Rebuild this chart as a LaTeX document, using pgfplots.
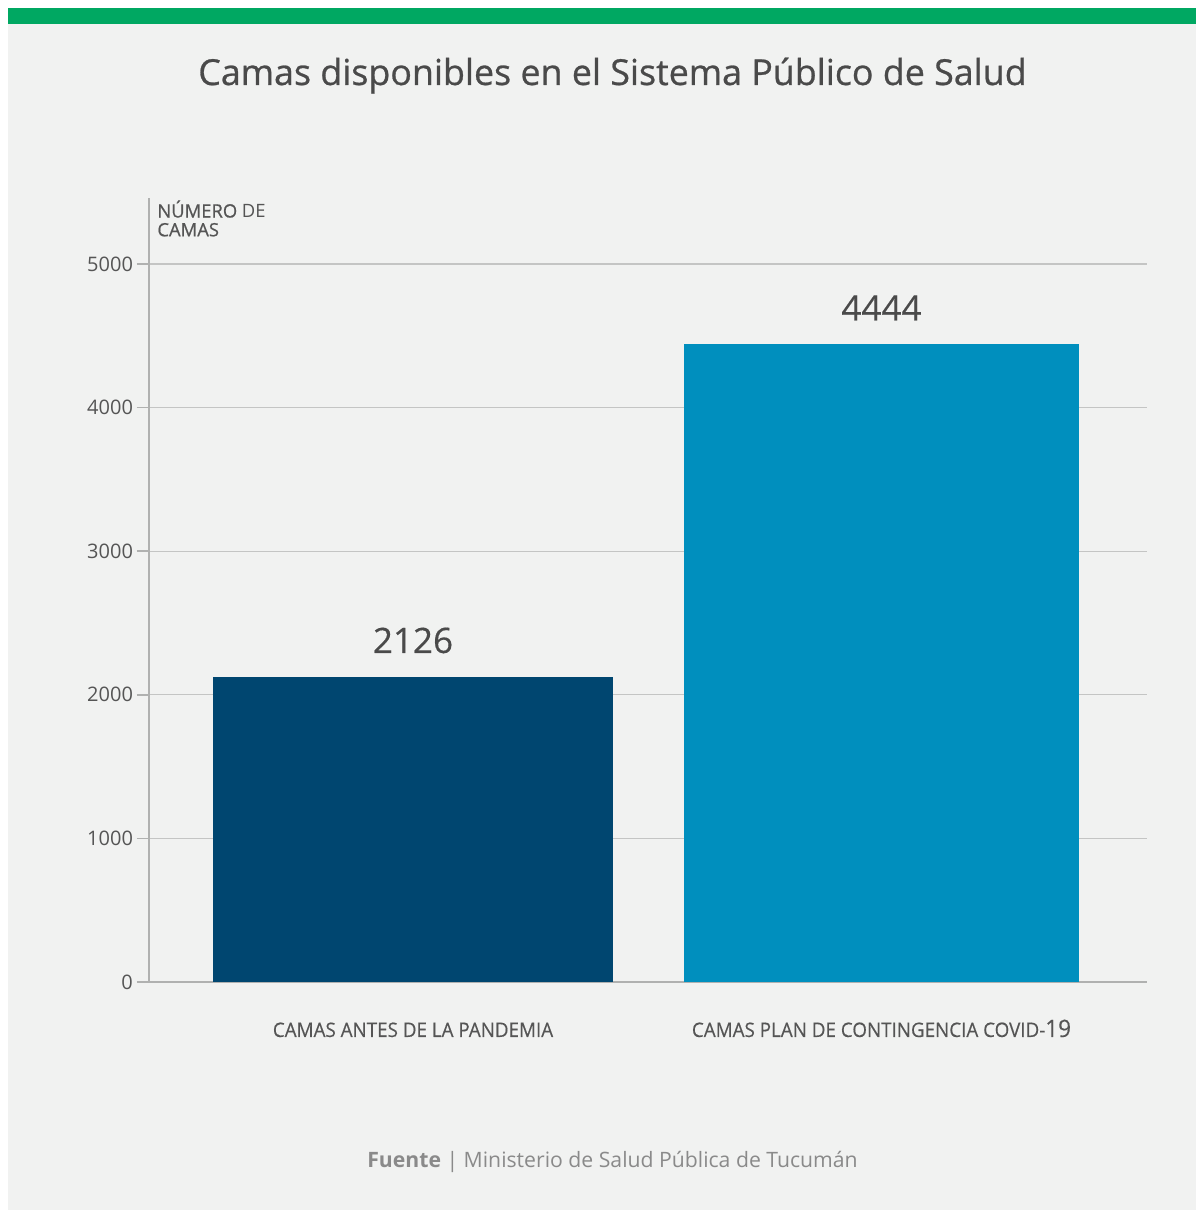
\documentclass[border=0pt]{standalone}
\usepackage{pgfplots}
\pgfplotsset{compat=1.18}
\usepackage{fontspec}
\setmainfont{Open Sans}
\newfontfamily\condfont[FakeStretch=0.94, FakeBold=0.3]{Open Sans}
\newfontfamily\semib[FakeBold=0.7]{Open Sans}
\newfontfamily\medf[FakeBold=0.4]{Open Sans}
\definecolor{bg}{HTML}{F1F2F1}
\definecolor{topgreen}{HTML}{00A862}
\definecolor{barA}{HTML}{004670}
\definecolor{barB}{HTML}{008FBE}
\definecolor{titlec}{HTML}{4A4A4A}
\definecolor{textc}{HTML}{555555}
\definecolor{footc}{HTML}{8A8A8A}
\definecolor{gridc}{HTML}{C4C5C4}
\definecolor{axisc}{HTML}{B0B1B0}
\begin{document}
\begin{tikzpicture}[x=0.5pt,y=0.5pt]
\useasboundingbox (0,0) rectangle (1196,1212);
\fill[white] (0,0) rectangle (1196,1212);
\fill[bg] (8,2) rectangle (1196,1188);
\fill[topgreen] (8,1188) rectangle (1196,1204);
\node[anchor=base, font=\semib\fontsize{17.9pt}{22pt}\selectfont, text=titlec, inner sep=0] at (612.5,1127) {Camas disponibles en el Sistema Público de Salud};
\node[anchor=base, font=\fontsize{10.6pt}{13pt}\selectfont, text=footc, inner sep=0] at (612.5,44) {\textbf{Fuente} | Ministerio de Salud Pública de Tucumán};
\node[anchor=north west, align=left, font=\fontsize{9.2pt}{9.4pt}\selectfont, text=textc, inner sep=0] at (157,1012) {{\semib NÚMERO} DE\\{\semib CAMAS}};
\begin{axis}[
  at={(149,160.2)}, anchor=origin,
  scale only axis, width=499pt, height=392pt,
  xmin=0, xmax=998, ymin=0, ymax=5460,
  axis x line=bottom, axis y line=left,
  axis line style={draw=axisc, line width=1pt, -},
  xtick=\empty,
  ytick={0,1000,2000,3000,4000,5000},
  ymajorgrids, grid style={draw=gridc, line width=0.6pt},
  tick style={draw=axisc, line width=0.8pt},
  major tick length=6pt, tick align=outside,
  yticklabel style={font=\fontsize{10pt}{12pt}\selectfont, text=textc, xshift=1.5pt},
  /pgf/number format/1000 sep={},
  /pgf/number format/assume math mode=true,
  nodes near coords,
  nodes near coords style={font=\medf\fontsize{17.5pt}{20pt}\selectfont, text=titlec, anchor=south, inner sep=0, yshift=11.5pt},
  clip=false,
]
\addplot[ybar, bar shift=0pt, bar width=400, fill=barA, draw=none] coordinates {(264,2126)};
\addplot[ybar, bar shift=0pt, bar width=395, fill=barB, draw=none] coordinates {(732.5,4444)};
\node[anchor=base, inner sep=0, font=\condfont\fontsize{10pt}{12pt}\selectfont, text=textc] at (axis cs:264,0) [yshift=-27.5pt] {CAMAS ANTES DE LA PANDEMIA};
\node[anchor=base, inner sep=0, font=\condfont\fontsize{10pt}{12pt}\selectfont, text=textc] at (axis cs:732.5,0) [yshift=-27.5pt] {CAMAS PLAN DE CONTINGENCIA COVID-{\fontsize{12pt}{14pt}\selectfont 19}};
\end{axis}
\end{tikzpicture}
\end{document}
